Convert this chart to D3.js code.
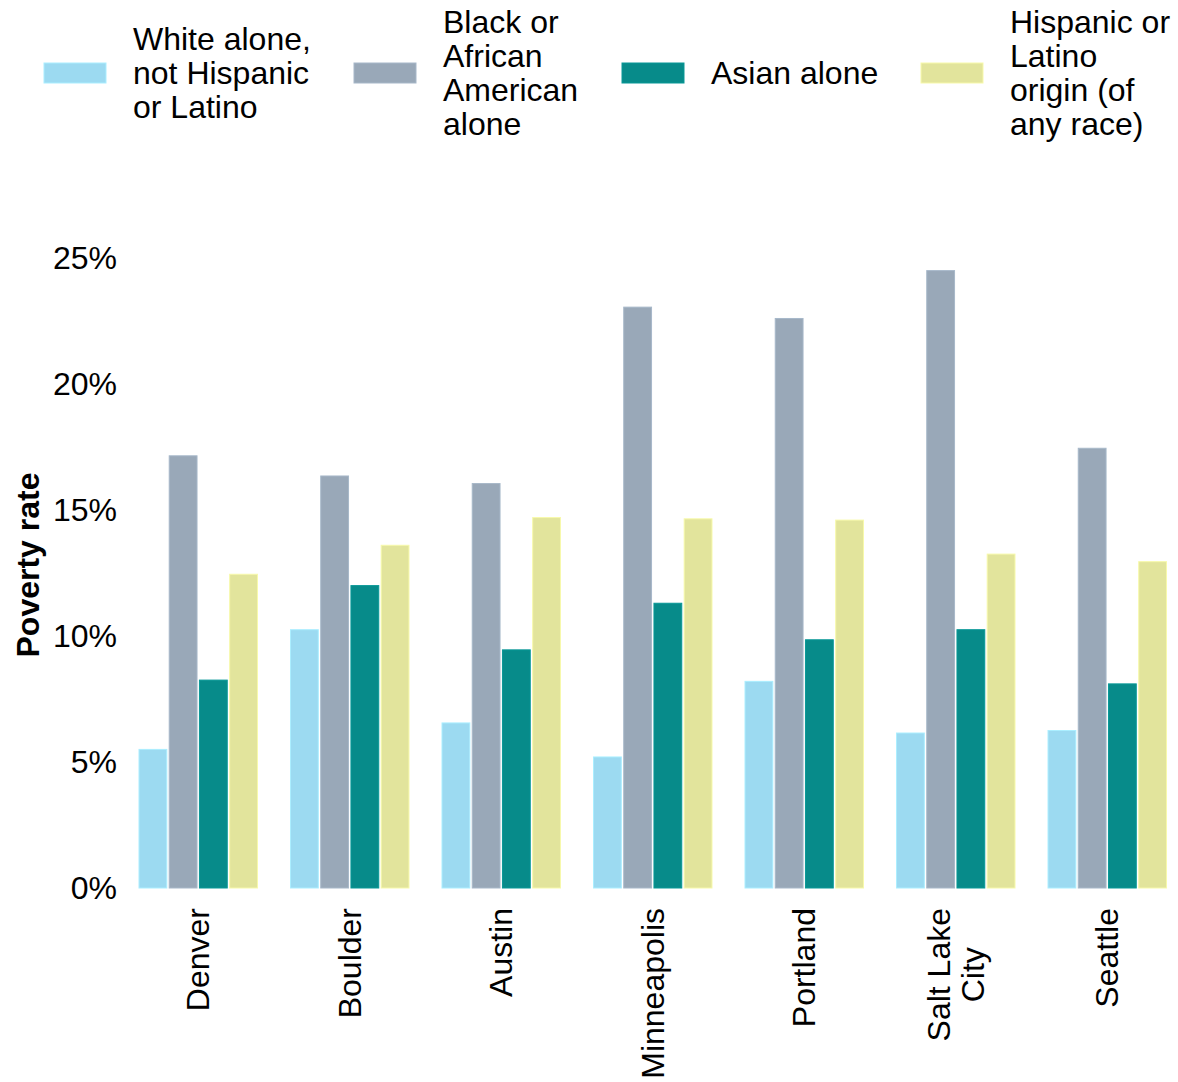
<!DOCTYPE html>
<html>
<head>
<meta charset="utf-8">
<script src="https://cdn.jsdelivr.net/npm/d3@7"></script>
<style>
  html, body { margin: 0; padding: 0; background: #fff; }
  svg { display: block; font-family: "Liberation Sans", Arial, sans-serif; }
</style>
</head>
<body>
<svg id="chart" width="1178" height="1082"></svg>
<script>
const cities = ["Denver", "Boulder", "Austin", "Minneapolis", "Portland", "Salt Lake City", "Seattle"];
const cityLabels = [["Denver"], ["Boulder"], ["Austin"], ["Minneapolis"], ["Portland"], ["Salt Lake", "City"], ["Seattle"]];
const seriesNames = ["White alone, not Hispanic or Latino", "Black or African American alone", "Asian alone", "Hispanic or Latino origin (of any race)"];
const legendLines = [
  ["White alone,", "not Hispanic", "or Latino"],
  ["Black or", "African", "American", "alone"],
  ["Asian alone"],
  ["Hispanic or", "Latino", "origin (of", "any race)"]
];
const whiteAlone   = [5.5, 10.25, 6.55, 5.2, 8.2, 6.15, 6.25];
const blackAlone   = [17.15, 16.35, 16.05, 23.05, 22.6, 24.5, 17.45];
const asianAlone   = [8.25, 12.0, 9.45, 11.3, 9.85, 10.25, 8.1];
const hispanic     = [12.45, 13.6, 14.7, 14.65, 14.6, 13.25, 12.95];
const yTicks = [0, 5, 10, 15, 20, 25];
const colors = ["#9cdaf1", "#99a8b8", "#078b8a", "#e2e49c"];

const seriesValues = [whiteAlone, blackAlone, asianAlone, hispanic];
const data = cities.map((c, i) => ({ city: c, label: cityLabels[i], values: seriesValues.map(s => s[i]) }));

const svg = d3.select("#chart");
const plotLeft = 139, plotRight = 1166.5, plotBottom = 888, plotTop = 258;
const fontSize = 32;

const x0 = d3.scaleBand().domain(cities).range([plotLeft, plotRight]).paddingInner(0.218).paddingOuter(0);
const x1 = d3.scaleBand().domain(d3.range(4)).range([0, x0.bandwidth()]).paddingInner(0.08).paddingOuter(0);
const y = d3.scaleLinear().domain([0, 25]).range([plotBottom, plotTop]);

// Y axis
const yAxis = d3.axisLeft(y).tickValues(yTicks).tickFormat(d => d + "%").tickSize(0).tickPadding(22);
const yg = svg.append("g").attr("transform", `translate(${plotLeft},0)`).call(yAxis);
yg.select(".domain").remove();
yg.selectAll("text").attr("font-size", fontSize).attr("fill", "#000").attr("font-family", "Liberation Sans, Arial, sans-serif");

// Y title
svg.append("text")
  .attr("transform", `translate(28,565) rotate(-90)`)
  .attr("text-anchor", "middle")
  .attr("dominant-baseline", "central")
  .attr("font-size", 32)
  .attr("font-weight", "bold")
  .text("Poverty rate");

// Bars
const groups = svg.append("g").selectAll("g").data(data).join("g")
  .attr("transform", d => `translate(${x0(d.city)},0)`);
groups.selectAll("rect").data(d => d.values.map((v, i) => ({ v, i }))).join("rect")
  .attr("x", d => x1(d.i))
  .attr("width", x1.bandwidth())
  .attr("y", d => y(d.v))
  .attr("height", d => y(0) - y(d.v))
  .attr("fill", d => colors[d.i])
  .attr("stroke", d => d3.color(colors[d.i]).brighter(0.25))
  .attr("stroke-width", 1);

// X labels
const lineH = 34;
const xl = svg.append("g");
data.forEach(d => {
  const cx = x0(d.city) + x0.bandwidth() / 2;
  const g = xl.append("g").attr("transform", `translate(${cx},908) rotate(-90)`);
  const n = d.label.length;
  const texts = d.label.map((line, j) => g.append("text")
    .attr("font-size", fontSize)
    .attr("dominant-baseline", "central")
    .attr("y", (j - (n - 1) / 2) * lineH)
    .text(line));
  const maxLen = d3.max(texts, t => t.node().getComputedTextLength());
  texts.forEach(t => t.attr("text-anchor", "middle").attr("x", -maxLen / 2));
});

// Legend
const legendX = [44, 354, 622, 921];
const legendCy = 73;
const lg = svg.append("g");
seriesNames.forEach((name, i) => {
  const g = lg.append("g").attr("transform", `translate(${legendX[i]},0)`);
  g.append("rect").attr("x", 0).attr("y", legendCy - 10).attr("width", 62).attr("height", 20)
    .attr("fill", colors[i]).attr("stroke", d3.color(colors[i]).brighter(0.25)).attr("stroke-width", 1);
  const lines = legendLines[i];
  const n = lines.length;
  const t = g.append("text").attr("font-size", fontSize);
  lines.forEach((line, j) => {
    t.append("tspan").attr("x", 89).attr("y", legendCy + (j - (n - 1) / 2) * 33.7)
      .attr("dominant-baseline", "central").text(line);
  });
});
</script>
</body>
</html>
